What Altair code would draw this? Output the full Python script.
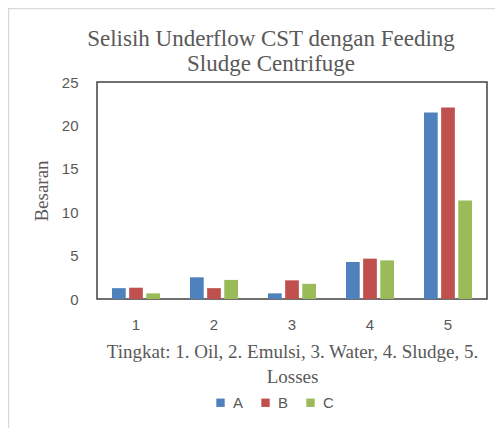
import altair as alt
import pandas as pd

levels = ["1", "2", "3", "4", "5"]
series = ["A", "B", "C"]
a_vals = [1.25, 2.5, 0.65, 4.25, 21.5]
b_vals = [1.3, 1.25, 2.15, 4.65, 22.05]
c_vals = [0.65, 2.2, 1.75, 4.45, 11.35]
colors = ["#4F81BD", "#C0504D", "#9BBB59"]
y_ticks = [0, 5, 10, 15, 20, 25]

rows = []
for s, vals in zip(series, [a_vals, b_vals, c_vals]):
    for lv, v in zip(levels, vals):
        rows.append({"Tingkat": lv, "Seri": s, "Besaran": v})
df = pd.DataFrame(rows)

GRAY = "#595959"
SERIF = "Liberation Serif"
SANS = "Liberation Sans"

bars = alt.Chart(df).mark_bar().encode(
    x=alt.X(
        "Tingkat:N", sort=levels,
        scale=alt.Scale(paddingInner=0.385, paddingOuter=0.1925),
        axis=alt.Axis(
            title=["Tingkat: 1. Oil, 2. Emulsi, 3. Water, 4. Sludge, 5.", "Losses"],
            labelAngle=0, ticks=False, tickSize=0, domain=False,
            labelPadding=18, labelFont=SANS, labelFontSize=15, labelColor=GRAY,
            titleFont=SERIF, titleFontSize=19, titleFontWeight="normal",
            titleColor=GRAY, titlePadding=10, titleLineHeight=25,
        ),
    ),
    xOffset=alt.XOffset("Seri:N", sort=series,
                        scale=alt.Scale(paddingInner=0.2, paddingOuter=0)),
    y=alt.Y(
        "Besaran:Q",
        scale=alt.Scale(domain=[0, 25], nice=False),
        axis=alt.Axis(
            values=y_ticks, grid=False, ticks=False, tickSize=0, domain=False,
            labelPadding=19, labelFont=SANS, labelFontSize=15, labelColor=GRAY,
            title="Besaran", titleFont=SERIF, titleFontSize=19,
            titleFontWeight="normal", titleColor=GRAY, titlePadding=10,
        ),
    ),
    color=alt.Color(
        "Seri:N",
        scale=alt.Scale(domain=series, range=colors),
        legend=alt.Legend(
            orient="none", legendX=116, legendY=313, direction="horizontal",
            title=None, symbolType="square", symbolSize=70,
            symbolStrokeWidth=0, labelFont=SANS, labelFontSize=15,
            labelColor=GRAY, columnPadding=14, labelOffset=5,
        ),
    ),
)

frame = alt.Chart(alt.Data(values=[{}])).mark_rect(
    filled=False, stroke="#d9d9d9", strokeWidth=1.5
).encode(
    x=alt.value(-88.5), x2=alt.value(800), y=alt.value(-73.5), y2=alt.value(800)
)

chart = alt.layer(frame, bars).properties(
    width=390,
    height=217,
    padding={"left": 89, "top": 74, "right": 8, "bottom": 129},
    autosize=alt.AutoSizeParams(type="none"),
    title=alt.TitleParams(
        text=["Selisih Underflow CST dengan Feeding", "Sludge Centrifuge"],
        font=SERIF, fontSize=23, fontWeight="normal", color=GRAY,
        lineHeight=25, anchor="middle", dx=-21, offset=-68,
    ),
).configure_view(stroke="#404040", strokeWidth=1.5)

chart.save("out.html", embed_options={"renderer": "svg", "actions": False})
